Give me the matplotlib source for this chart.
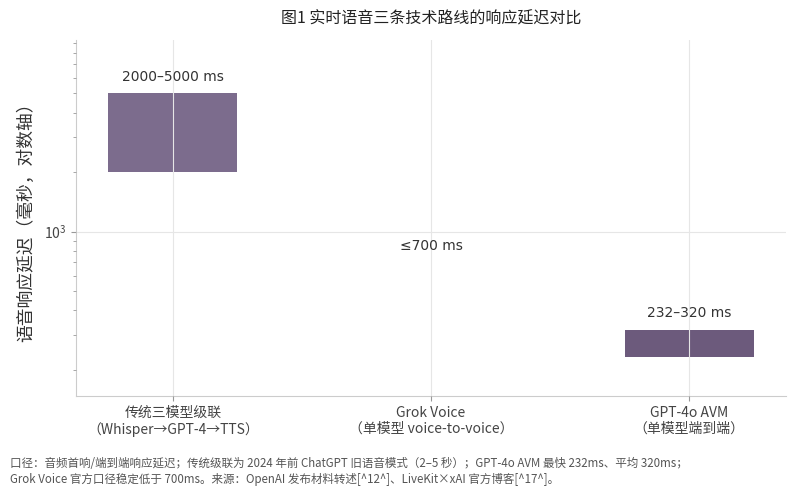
import numpy as np
import matplotlib
matplotlib.use("Agg")
import matplotlib.pyplot as plt

plt.rcParams['font.family'] = ['Noto Sans CJK SC', 'DejaVu Sans']
plt.rcParams['axes.unicode_minus'] = False

# 数据
categories = ['传统三模型级联\n（Whisper→GPT-4→TTS）',
              'Grok Voice\n（单模型 voice-to-voice）',
              'GPT-4o AVM\n（单模型端到端）']
low_ms = [2000, np.nan, 232]
high_ms = [5000, 700, 320]
labels = ['2000–5000 ms', '≤700 ms', '232–320 ms']
bar_colors = ['#7c6c8d', '#6c5a7c', '#6c5a7c']

footer = ("口径：音频首响/端到端响应延迟；传统级联为 2024 年前 ChatGPT 旧语音模式（2–5 秒）；"
          "GPT-4o AVM 最快 232ms、平均 320ms；\n"
          "Grok Voice 官方口径稳定低于 700ms。来源：OpenAI 发布材料转述[^12^]、LiveKit×xAI 官方博客[^17^]。")

fig = plt.figure(figsize=(7.95, 4.93), dpi=100)
ax = fig.add_axes([0.0956, 0.1968, 0.8931, 0.7221])

x = np.arange(len(categories))
for i in range(len(categories)):
    if not np.isnan(low_ms[i]):
        ax.bar(x[i], high_ms[i] - low_ms[i], bottom=low_ms[i], width=0.5,
               color=bar_colors[i], zorder=1)
    ax.text(x[i], high_ms[i] * 1.12, labels[i], ha='center', va='bottom',
            fontsize=10, color='#333333', family='DejaVu Sans')

ax.set_yscale('log')
ax.set_ylim(148, 9300)
ax.set_xlim(-0.375, 2.375)
ax.set_xticks(x)
ax.set_xticklabels(categories, fontsize=10, color='#444444')
ax.set_ylabel('语音响应延迟（毫秒，对数轴）', fontsize=12.8, color='#333333', labelpad=6)
ax.set_title('图1 实时语音三条技术路线的响应延迟对比', fontsize=11.5, color='#222222', pad=12)

ax.grid(True, which='major', color='#e6e6e6', linewidth=0.8, zorder=2)
ax.set_axisbelow(False)
for s in ['top', 'right']:
    ax.spines[s].set_visible(False)
for s in ['left', 'bottom']:
    ax.spines[s].set_color('#cccccc')
ax.tick_params(axis='both', which='both', colors='#999999', labelcolor='#444444')
ax.tick_params(axis='y', labelsize=10)

fig.text(0.012, 0.015, footer, fontsize=8.3, color='#555555', ha='left', va='bottom',
         linespacing=1.25)

fig.savefig('out.png', dpi=100)
